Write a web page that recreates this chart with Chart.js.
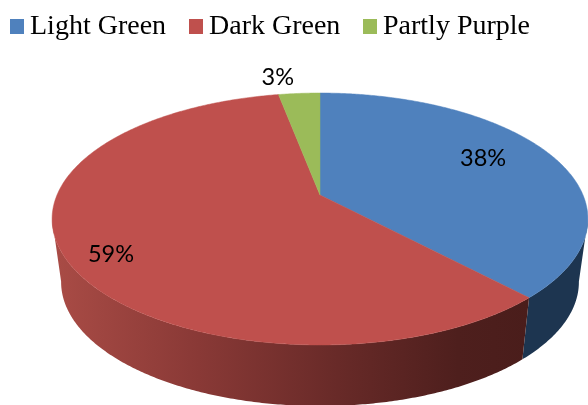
<!DOCTYPE html>
<html>
<head>
<meta charset="utf-8">
<style>html,body{margin:0;padding:0;background:#fff}canvas{display:block}</style>
<script src="https://cdn.jsdelivr.net/npm/chart.js@4"></script>
</head>
<body>
<canvas id="pie" width="588" height="405"></canvas>
<script>
const categories = ['Light Green', 'Dark Green', 'Partly Purple'];
const shares = [38, 59, 3];
const faceColors = ['#4f81bd', '#bf504d', '#9bbb59'];

// Perspective disc: apex position, scale and foreshortening of each rim.
const topRim = { cx: 320, cy: 195, a: 263, b: 121.4, k: 0.1905 };
const baseRim = { cx: 320, cy: 258, a: 254, b: 119.4, k: 0.1935 };

function project(rim, r, angle) {
  const u = r * Math.cos(angle), v = r * Math.sin(angle);
  const w = 1 - rim.k * v;
  return { x: rim.cx + rim.a * u / w, y: rim.cy + rim.b * v / w };
}

// Wall shading, lit from the left for the red slice, flat navy for the blue one.
function wallFill(ctx, index) {
  if (index === 0) return '#1d3550';
  if (index === 2) return '#5a6e32';
  const g = ctx.createLinearGradient(50, 0, 530, 0);
  g.addColorStop(0, '#aa4c46');
  g.addColorStop(0.31, '#893936');
  g.addColorStop(0.6, '#682a28');
  g.addColorStop(0.85, '#4e1f1d');
  g.addColorStop(1, '#4a1d1b');
  return g;
}

function traceRim(ctx, rim, from, to, step) {
  const n = Math.max(1, Math.ceil(Math.abs(to - from) / step));
  for (let j = 0; j <= n; j++) {
    const p = project(rim, 1, from + (to - from) * j / n);
    ctx.lineTo(p.x, p.y);
  }
}

const disc3d = {
  id: 'disc3d',
  beforeDatasetsDraw(chart) {
    const ctx = chart.ctx;
    const arcs = chart.getDatasetMeta(0).data;
    const step = Math.PI / 360;
    // Side walls first: only the angles between the two silhouette tangents face the viewer.
    const tangent = Math.asin(topRim.k);
    arcs.forEach((arc, i) => {
      const from = Math.max(arc.startAngle, tangent);
      const to = Math.min(arc.endAngle, Math.PI - tangent);
      if (to <= from) return;
      ctx.beginPath();
      traceRim(ctx, topRim, from, to, step);
      traceRim(ctx, baseRim, to, from, step);
      ctx.closePath();
      ctx.fillStyle = wallFill(ctx, i);
      ctx.fill();
    });
    // Top face of every slice.
    arcs.forEach((arc, i) => {
      ctx.beginPath();
      ctx.moveTo(topRim.cx, topRim.cy);
      traceRim(ctx, topRim, arc.startAngle, arc.endAngle, step);
      ctx.closePath();
      ctx.fillStyle = faceColors[i];
      ctx.strokeStyle = faceColors[i];
      ctx.lineWidth = 0.5;
      ctx.fill();
      ctx.stroke();
    });
    return false;
  },
  afterDraw(chart) {
    const ctx = chart.ctx;
    const arcs = chart.getDatasetMeta(0).data;
    // Percentage labels: radial fraction along each slice's middle, then a nudge.
    const placement = [[0.85, -33, -1], [0.85, 6, 9], [1.2, -18, 1]];
    ctx.save();
    ctx.font = '23.5px Lato, sans-serif';
    ctx.fillStyle = '#000';
    ctx.textAlign = 'center';
    ctx.textBaseline = 'middle';
    arcs.forEach((arc, i) => {
      const mid = (arc.startAngle + arc.endAngle) / 2;
      const [r, dx, dy] = placement[i];
      const p = project(topRim, r, mid);
      ctx.fillText(shares[i] + '%', p.x + dx, p.y + dy);
    });
    // Legend row
    ctx.font = '28px "Liberation Serif", serif';
    ctx.textAlign = 'left';
    ctx.textBaseline = 'alphabetic';
    const legendX = [10, 189, 363];
    categories.forEach((name, i) => {
      ctx.fillStyle = faceColors[i];
      ctx.fillRect(legendX[i], 19, 14, 15);
      ctx.fillStyle = '#000';
      ctx.fillText(name, legendX[i] + 20, 34);
    });
    ctx.restore();
  }
};

new Chart(document.getElementById('pie'), {
  type: 'pie',
  data: {
    labels: categories,
    datasets: [{ data: shares, backgroundColor: faceColors, borderWidth: 0 }]
  },
  options: {
    responsive: false,
    animation: false,
    rotation: 0,
    plugins: { legend: { display: false }, tooltip: { enabled: false } }
  },
  plugins: [disc3d]
});
</script>
</body>
</html>
